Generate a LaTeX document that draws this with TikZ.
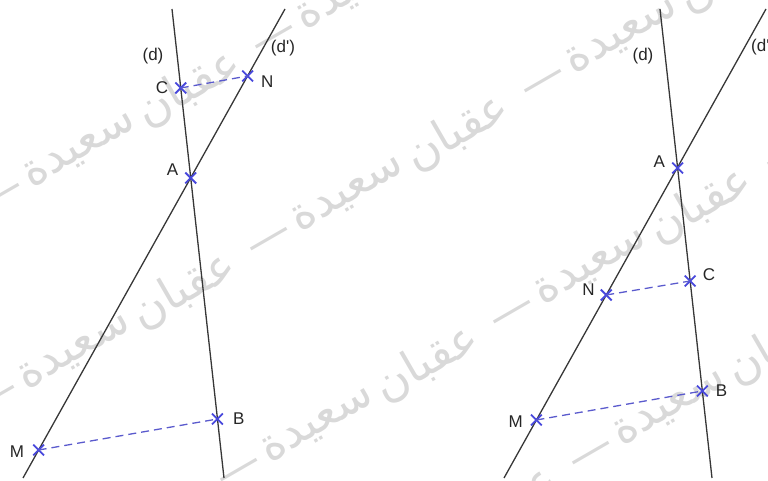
\documentclass[tikz,border=0pt]{standalone}
\usepackage{fontspec}
\setmainfont{Liberation Sans}
\newfontfamily\arabicfont[Script=Arabic]{DejaVu Sans}
\TeXXeTstate=1
\usetikzlibrary{calc, positioning, shapes.misc}
\definecolor{ptblue}{RGB}{72,72,220}
\definecolor{segblue}{RGB}{90,90,205}
\definecolor{linegray}{RGB}{55,55,55}
\tikzset{
  droite/.style={linegray, line width=1.3bp},
  seg/.style={segblue, line width=1.3bp, dash pattern=on 8bp off 5bp},
  pt/.style={cross out, draw=ptblue, line width=1.8bp, minimum size=9bp, inner sep=0pt},
  lbl/.style={inner sep=0pt, font=\fontsize{17bp}{20bp}\selectfont, text=black!85},
  wm/.style={rotate=30, text=black!15, font=\arabicfont\fontsize{46bp}{52bp}\selectfont},
}

\begin{document}
\begin{tikzpicture}[x=1bp, y=1bp]
    \useasboundingbox (0,0) rectangle (768,481);
    \clip (0,0) rectangle (768,481);

    % filigrane
    \foreach \ox/\oy in {80/331, 75/129, 318/56, 670/73}{
        \begin{scope}[shift={(\ox,\oy)}, rotate=30]
            \foreach \k in {-2,...,2}{
                \node[wm] at (316*\k,0) {\beginR سعيدة\endR};
                \node[wm] at (316*\k+125,0) {\beginR عقبان\endR};
                \node[wm] at (316*\k+225,-5) {—};
            }
        \end{scope}
    }

    % figure 1 : C et N au-dessus de A
    \coordinate (d1t) at (172,472);
    \coordinate (d1b) at (224,3);
    \coordinate (e1t) at (285,472);
    \coordinate (e1b) at (23,3);
    \draw[droite] (d1t) -- (d1b);
    \draw[droite] (e1t) -- (e1b);
    \node[pt] (C1) at ($(d1t)!0.1684!(d1b)$) {};
    \node[pt] (A1) at ($(d1t)!0.3603!(d1b)$) {};
    \node[pt] (B1) at ($(d1t)!0.8742!(d1b)$) {};
    \node[pt] (N1) at ($(e1t)!0.1429!(e1b)$) {};
    \node[pt] (M1) at ($(e1t)!0.9403!(e1b)$) {};
    \draw[seg] (C1.center) -- (N1.center);
    \draw[seg] (M1.center) -- (B1.center);
    \node[lbl] (dl1) at (153,425) {(d)};
    \node[lbl] (el1) at (283,433) {(d\textquotesingle)};
    \node[lbl, left=7bp of C1] {C};
    \node[lbl, right=8bp of N1, yshift=-6bp] {N};
    \node[lbl, left=7bp of A1, yshift=8bp] {A};
    \node[lbl, right=10bp of B1] {B};
    \node[lbl, left=9bp of M1, yshift=-2bp] {M};

    % figure 2 : C et N entre A et B, M
    \coordinate (d2t) at (660,472);
    \coordinate (d2b) at (712,3);
    \coordinate (e2t) at (766,472);
    \coordinate (e2b) at (504,3);
    \draw[droite] (d2t) -- (d2b);
    \draw[droite] (e2t) -- (e2b);
    \node[pt] (A2) at ($(d2t)!0.339!(d2b)$) {};
    \node[pt] (C2) at ($(d2t)!0.58!(d2b)$) {};
    \node[pt] (B2) at ($(d2t)!0.8145!(d2b)$) {};
    \node[pt] (N2) at ($(e2t)!0.6098!(e2b)$) {};
    \node[pt] (M2) at ($(e2t)!0.8763!(e2b)$) {};
    \draw[seg] (N2.center) -- (C2.center);
    \draw[seg] (M2.center) -- (B2.center);
    \node[lbl] (dl2) at (643,425) {(d)};
    \node[lbl, anchor=west] (el2) at (751,434) {(d\textquotesingle)};
    \node[lbl, left=7bp of A2, yshift=6bp] {A};
    \node[lbl, right=7bp of C2, yshift=6bp] {C};
    \node[lbl, left=6bp of N2, yshift=5bp] {N};
    \node[lbl, right=8bp of B2] {B};
    \node[lbl, left=8bp of M2, yshift=-2bp] {M};
\end{tikzpicture}
\end{document}
